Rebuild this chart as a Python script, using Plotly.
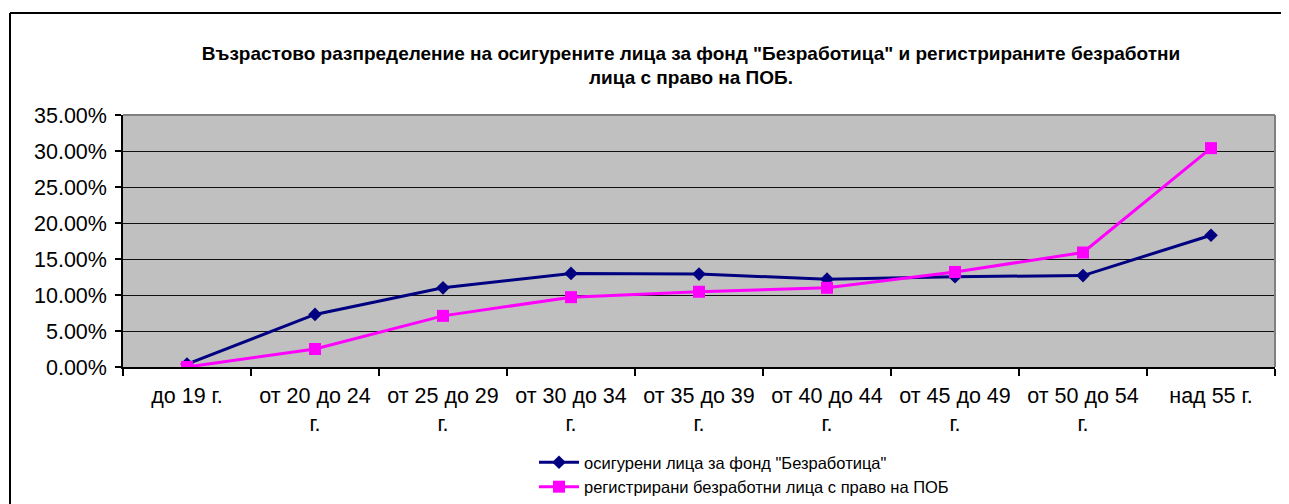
import plotly.graph_objects as go

categories = ["до 19 г.", "от 20 до 24<br>г.", "от 25 до 29<br>г.", "от 30 до 34<br>г.",
              "от 35 до 39<br>г.", "от 40 до 44<br>г.", "от 45 до 49<br>г.", "от 50 до 54<br>г.",
              "над 55 г."]
insured = [0.004, 0.073, 0.110, 0.130, 0.129, 0.122, 0.1255, 0.127, 0.183]
unemployed = [0.000, 0.025, 0.071, 0.097, 0.1045, 0.110, 0.132, 0.159, 0.304]
series_names = ['осигурени лица за фонд "Безработица"', 'регистрирани безработни лица с право на ПОБ']
title_text = ('Възрастово разпределение на осигурените лица за фонд "Безработица" и регистрираните безработни'
              '<br>лица с право на ПОБ.')

OFF = 8  # default page body margin
W, H = 1289 - 2 * OFF, 504
# plot area in reference page pixels
RL, RR, RT, RB = 123, 1275, 115, 367
L, R, T, B = RL - OFF, RR - OFF, RT - OFF, RB - OFF
font_family = "Arial, Liberation Sans, sans-serif"

def px(x):  # reference page pixel -> paper x
    return (x - OFF - L) / (R - L)

def py(y):  # reference page pixel -> paper y
    return (B - (y - OFF)) / (B - T)

fig = go.Figure()
fig.add_trace(go.Scatter(
    x=categories, y=insured, name=series_names[0], mode="lines+markers",
    legendgroup="a",
    line=dict(color="#000080", width=3),
    marker=dict(symbol="diamond", size=10.5, color="#000080"),
))
fig.add_trace(go.Scatter(
    x=categories, y=unemployed, name=series_names[1], mode="lines+markers",
    legendgroup="b",
    line=dict(color="#FF00FF", width=3),
    marker=dict(symbol="square", size=12, color="#FF00FF"),
))

fig.update_layout(
    width=W, height=H,
    margin=dict(l=L, r=W - R, t=T, b=H - B, pad=0, autoexpand=False),
    paper_bgcolor="white",
    plot_bgcolor="#C0C0C0",
    font=dict(family=font_family, color="black"),
    title=dict(text="<b>" + title_text + "</b>", x=(691 - OFF) / W, xanchor="center",
               y=1 - (59.5 - OFF) / H, yanchor="middle", font=dict(size=19, family=font_family)),
    showlegend=True,
    legend=dict(x=px(534), y=py(445), xanchor="left", yanchor="top",
                font=dict(size=16.5, family=font_family), bgcolor="rgba(0,0,0,0)",
                tracegroupgap=0, itemwidth=40),
    xaxis=dict(
        type="category", range=[-0.5, 8.5], tickson="boundaries",
        ticks="outside", ticklen=7, tickwidth=1.5, tickcolor="black",
        showline=True, linecolor="black", linewidth=1.5, automargin=False,
        showgrid=False, tickfont=dict(size=21.5), ticklabelstandoff=8,
    ),
    yaxis=dict(
        range=[0, 0.35], dtick=0.05, tickformat=".2%",
        ticks="outside", ticklen=6, tickwidth=1.5, tickcolor="black",
        showline=True, linecolor="black", linewidth=1.5, automargin=False,
        showgrid=True, gridcolor="#111111", gridwidth=1.2,
        tickfont=dict(size=21.5), zeroline=False, ticklabelstandoff=4,
    ),
    shapes=[
        dict(type="line", xref="paper", yref="paper", x0=0, x1=1, y0=1, y1=1,
             line=dict(color="#808080", width=2)),
        dict(type="line", xref="paper", yref="paper", x0=1, x1=1, y0=0, y1=1,
             line=dict(color="#808080", width=2)),
        dict(type="line", xref="paper", yref="paper", x0=px(10), x1=px(1300), y0=py(13), y1=py(13),
             line=dict(color="black", width=2)),
        dict(type="line", xref="paper", yref="paper", x0=px(10), x1=px(10), y0=py(13), y1=py(540),
             line=dict(color="black", width=2)),
    ],
)

fig.write_html("out.html")
